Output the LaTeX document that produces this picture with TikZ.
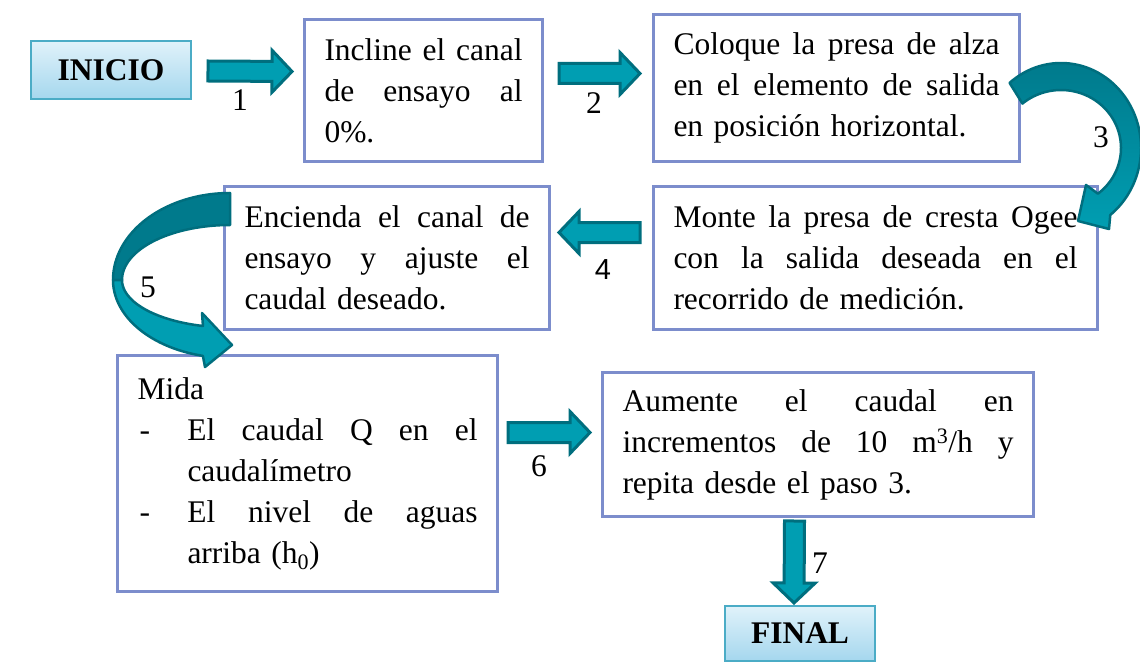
\documentclass[tikz,border=0pt]{standalone}
\usepackage{fontspec}
\setmainfont{Liberation Serif}
\newfontfamily\sansdigit{Liberation Sans}
\usetikzlibrary{calc}
\definecolor{boxline}{RGB}{124,141,204}
\definecolor{termline}{RGB}{75,172,198}
\definecolor{termtop}{RGB}{224,242,250}
\definecolor{termbot}{RGB}{165,215,238}
\definecolor{tealF}{RGB}{0,158,178}
\definecolor{tealD}{RGB}{0,110,126}
\definecolor{tealDk}{RGB}{0,122,140}
\newcommand\blockarrow[2]{%
  \coordinate (bam) at ($(#2)!20pt!(#1)$);
  \filldraw[barrow] ($(#1)!10pt!90:(#2)$) -- ($(bam)!10pt!90:(#2)$) -- ($(bam)!21pt!90:(#2)$) -- (#2) -- ($(bam)!21pt!-90:(#2)$) -- ($(bam)!10pt!-90:(#2)$) -- ($(#1)!10pt!-90:(#2)$) -- cycle;}
\newcommand\sline[2]{\makebox[#1][s]{\spaceskip=0pt\xspaceskip=0pt #2}}
\newcommand\jline[1]{\sline{\hsize}{#1}}
\begin{document}
\begin{tikzpicture}[x=1pt,y=-1pt,
  box/.style={draw=boxline, line width=3pt, fill=white, anchor=north west, align=left,
    inner xsep=20pt, inner ysep=0pt, font=\fontsize{31.5}{41}\selectfont},
  term/.style={draw=termline, line width=2pt, top color=termtop, bottom color=termbot,
    anchor=north west, inner sep=0pt, font=\bfseries\fontsize{31.5}{38}\selectfont},
  lab/.style={font=\fontsize{31.5}{38}\selectfont, inner sep=0pt},
  barrow/.style={fill=tealF, draw=tealD, line width=3pt, line join=miter},
  carrow/.style={draw=tealD, line width=2.5pt, line join=round}]
\useasboundingbox (0,0) rectangle (1140,663);

% terminals
\node[term, minimum width=160pt, minimum height=58pt] (ini) at (30,40) {INICIO};
\node[term, minimum width=150pt, minimum height=55pt] (fin) at (724,605) {FINAL};

% process boxes
\node[box, minimum width=238pt, minimum height=142pt, text width=198pt] (b1) at (303,18)
  {\jline{Incline el canal}\\ \jline{de ensayo al}\\ 0\%.};
\node[box, minimum width=366pt, minimum height=147pt, text width=326pt] (b2) at (652,13)
  {\jline{Coloque la presa de alza}\\ \jline{en el elemento de salida}\\ en posición horizontal.};
\node[box, minimum width=444pt, minimum height=143pt, text width=404pt] (b3) at (652,185)
  {\jline{Monte la presa de cresta Ogee}\\ \jline{con la salida deseada en el}\\ recorrido de medición.};
\node[box, minimum width=325pt, minimum height=143pt, text width=285pt] (b4) at (223,185)
  {\jline{Encienda el canal de}\\ \jline{ensayo y ajuste el}\\ caudal deseado.};
\node[box, minimum width=380pt, minimum height=236pt, text width=340pt] (b5) at (116,354)
  {Mida\\
   \makebox[50pt][l]{\hspace*{2pt}-}\sline{290pt}{El caudal Q en el}\\
   \hspace*{50pt}caudalímetro\\
   \makebox[50pt][l]{\hspace*{2pt}-}\sline{290pt}{El nivel de aguas}\\
   \hspace*{50pt}arriba (h\textsubscript{0})};
\node[box, minimum width=431pt, minimum height=144pt, text width=391pt] (b6) at (601,371)
  {\jline{Aumente el caudal en}\\ \jline{incrementos de 10 m\textsuperscript{3}/h y}\\ repita desde el paso 3.};

% straight block arrows
\coordinate (a1s) at ($(ini.east)+(16,1)$);
\coordinate (a1e) at ($(b1.west)+(-11,-19)$);
\blockarrow{a1s}{a1e}
\coordinate (a2s) at ($(b1.east)+(15,-17)$);
\coordinate (a2e) at ($(b2.west)+(-12,-14.5)$);
\blockarrow{a2s}{a2e}
\coordinate (a4s) at ($(b3.west)+(-12,-25.5)$);
\coordinate (a4e) at ($(b4.east)+(8,-25.5)$);
\blockarrow{a4s}{a4e}
\coordinate (a6s) at ($(b5.east)+(9,-41)$);
\coordinate (a6e) at ($(b6.west)+(-11,-12)$);
\blockarrow{a6s}{a6e}
\coordinate (a7s) at ($(b6.south)+(-23.5,3)$);
\coordinate (a7e) at ($(fin.north)+(-6,-2)$);
\blockarrow{a7s}{a7e}

% curved arrow 3 (from b2 to b3)
\coordinate (c3) at ($(b2.north east)+(40,135)$);
\begin{scope}[shift={(c3)}]
  \filldraw[carrow, top color=tealDk, middle color=tealDk, bottom color=tealF]
    plot[smooth, domain=230:412, samples=60] ({80*cos(\x)},{85*sin(\x)})
    -- (48,81) -- (17,73) -- (25,37)
    -- plot[smooth, domain=412:230, samples=60] ({60*cos(\x)},{58*sin(\x)})
    -- cycle;
\end{scope}

% curved arrow 5 (from b4 to b5)
\coordinate (c5) at ($(b4.north west)+(7,95)$);
\begin{scope}[shift={(c5)}]
  \filldraw[carrow, fill=tealDk]
    plot[smooth, domain=270:180, samples=40] ({117*cos(\x)},{87*sin(\x)})
    -- plot[smooth, domain=180:270, samples=40] ({108*cos(\x)},{55*sin(\x)})
    -- cycle;
  \filldraw[carrow, fill=tealF]
    plot[smooth, domain=180:103.4, samples=40] ({117*cos(\x)},{78*sin(\x)})
    -- (-25,87) -- (2,65) -- (-28,33)
    -- plot[smooth, domain=104.5:180, samples=40] ({108*cos(\x)},{47.5*sin(\x)})
    -- cycle;
\end{scope}

% labels
\node[lab] (l1) at (240,100) {1};
\node[lab] (l2) at (594,103) {2};
\node[lab] (l3) at (1101,137) {3};
\node[lab, font=\sansdigit\fontsize{29}{36}\selectfont] (l4) at (603,270) {4};
\node[lab] (l5) at (148,287) {5};
\node[lab] (l6) at (539,466) {6};
\node[lab] (l7) at (820,563) {7};
\end{tikzpicture}
\end{document}
